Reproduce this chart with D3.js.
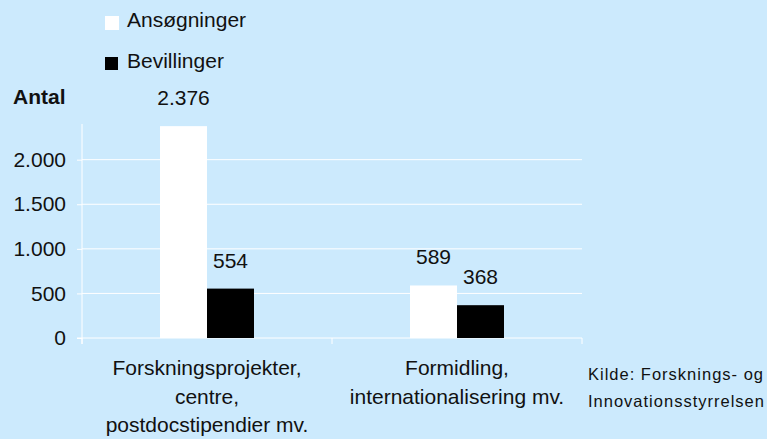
<!DOCTYPE html>
<html>
<head>
<meta charset="utf-8">
<script src="https://d3js.org/d3.v7.min.js"></script>
<style>
body { margin: 0; background: #cceafd; }
svg { display: block; font-family: "Liberation Sans", Arial, sans-serif; }
</style>
</head>
<body>
<div id="chart"></div>
<script>
var width = 767, height = 439;

var categories = [["Forskningsprojekter,", "centre,", "postdocstipendier mv."],
                  ["Formidling,", "internationalisering mv."]];
var seriesNames = ["Ansøgninger", "Bevillinger"];
var ansoegninger = [2376, 589];
var bevillinger = [554, 368];
var yTicks = [0, 500, 1000, 1500, 2000];
var fmt = d3.format(",d");
var fmtDa = function (v) { return fmt(v).replace(/,/g, "."); };

var colors = ["#ffffff", "#000000"];

var svg = d3.select("#chart").append("svg")
  .attr("width", width).attr("height", height);

svg.append("rect").attr("width", width).attr("height", height).attr("fill", "#cceafd");

var plotLeft = 82, plotRight = 582, plotBottom = 338;

var x = d3.scaleBand().domain(d3.range(categories.length))
  .range([plotLeft, plotRight]);
var y = d3.scaleLinear().domain([0, 2400]).range([plotBottom, 124]);
var barW = 47;

// gridlines
svg.append("g").selectAll("line").data(yTicks.slice(1)).enter()
  .append("line")
  .attr("x1", plotLeft).attr("x2", plotRight)
  .attr("y1", function (d) { return y(d); })
  .attr("y2", function (d) { return y(d); })
  .attr("stroke", "#ffffff").attr("stroke-width", 1);

// y axis
var yAxis = svg.append("g").attr("transform", "translate(" + plotLeft + ",0)")
  .call(d3.axisLeft(y).tickValues(yTicks).tickSize(5).tickPadding(11).tickFormat(fmtDa));
yAxis.select(".domain").attr("stroke", "#ffffff").attr("d", "M0," + y(2400) + "V" + (plotBottom + 6));
yAxis.selectAll(".tick line").attr("stroke", "#ffffff");
yAxis.selectAll("text").attr("font-size", 21).attr("fill", "#111");

// x axis
svg.append("line").attr("x1", plotLeft - 5).attr("x2", plotRight)
  .attr("y1", plotBottom).attr("y2", plotBottom).attr("stroke", "#ffffff");
svg.append("g").selectAll("line").data(d3.range(categories.length + 1)).enter()
  .append("line")
  .attr("x1", function (i) { return plotLeft + i * x.bandwidth(); })
  .attr("x2", function (i) { return plotLeft + i * x.bandwidth(); })
  .attr("y1", plotBottom).attr("y2", plotBottom + 6)
  .attr("stroke", "#ffffff");

// bars
[ansoegninger, bevillinger].forEach(function (vals, s) {
  var g = svg.append("g");
  g.selectAll("rect").data(vals).enter().append("rect")
    .attr("x", function (d, i) { return x(i) + x.bandwidth() / 2 - barW + s * barW; })
    .attr("y", function (d) { return y(d); })
    .attr("width", barW)
    .attr("height", function (d) { return plotBottom - y(d); })
    .attr("fill", colors[s]);
  g.selectAll("text").data(vals).enter().append("text")
    .attr("x", function (d, i) { return x(i) + x.bandwidth() / 2 - barW / 2 + s * barW; })
    .attr("y", function (d) { return y(d) - 21; })
    .attr("text-anchor", "middle").attr("font-size", 21).attr("fill", "#111")
    .text(function (d) { return fmtDa(d); });
});

// category labels
categories.forEach(function (lines, i) {
  var t = svg.append("text").attr("text-anchor", "middle")
    .attr("font-size", 21).attr("fill", "#111");
  lines.forEach(function (l, j) {
    t.append("tspan").attr("x", x(i) + x.bandwidth() / 2)
      .attr("y", 375 + j * 28.5).text(l);
  });
});

// legend
seriesNames.forEach(function (name, s) {
  svg.append("rect").attr("x", 105).attr("y", 16 + s * 41)
    .attr("width", s ? 13 : 14).attr("height", s ? 13 : 14).attr("fill", colors[s]);
  svg.append("text").attr("x", 127).attr("y", 27 + s * 41)
    .attr("font-size", 21).attr("fill", "#111").text(name);
});

svg.append("text").attr("x", 13).attr("y", 104)
  .attr("font-size", 21).attr("font-weight", "bold").attr("fill", "#111").text("Antal");

// source
var src = svg.append("text").attr("font-size", 16.5).attr("fill", "#111")
  .attr("letter-spacing", 1);
src.append("tspan").attr("x", 588).attr("y", 380).text("Kilde: Forsknings- og");
src.append("tspan").attr("x", 588).attr("y", 407).text("Innovationsstyrrelsen");
</script>
</body>
</html>
